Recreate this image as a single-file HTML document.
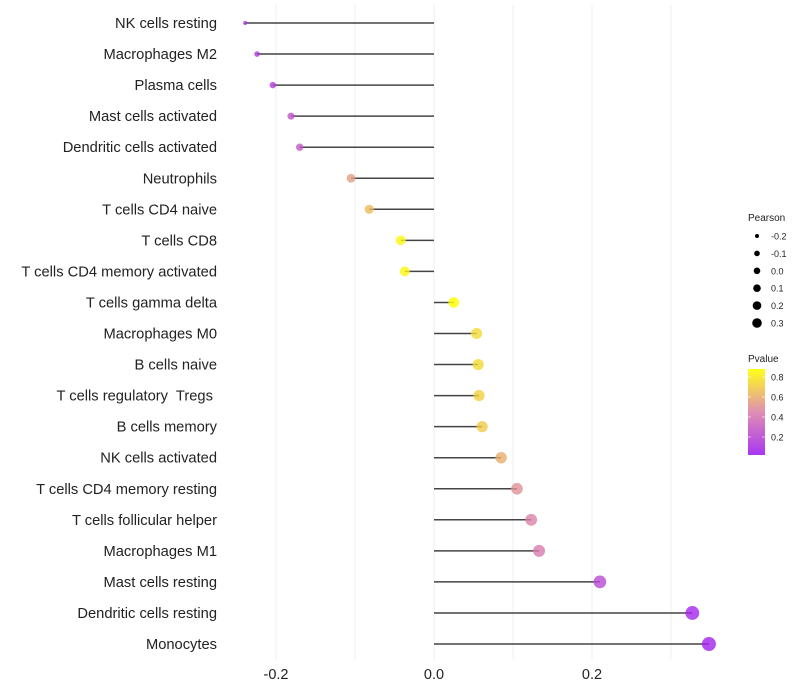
<!DOCTYPE html>
<html><head><meta charset="utf-8"><style>
body{margin:0;background:#fff;}
svg{display:block;font-family:"Liberation Sans",sans-serif;}
text{white-space:pre;}
</style></head><body>
<svg id="chart" width="800" height="700"></svg>
<script>
const categories=["NK cells resting","Macrophages M2","Plasma cells","Mast cells activated","Dendritic cells activated","Neutrophils","T cells CD4 naive","T cells CD8","T cells CD4 memory activated","T cells gamma delta","Macrophages M0","B cells naive","T cells regulatory  Tregs ","B cells memory","NK cells activated","T cells CD4 memory resting","T cells follicular helper","Macrophages M1","Mast cells resting","Dendritic cells resting","Monocytes"];
const pearson=[-0.239,-0.224,-0.204,-0.181,-0.170,-0.105,-0.082,-0.042,-0.037,0.025,0.054,0.056,0.057,0.061,0.085,0.105,0.123,0.133,0.210,0.327,0.348];
const pvalues=[0.08,0.12,0.15,0.25,0.27,0.55,0.65,0.85,0.85,0.88,0.75,0.75,0.72,0.7,0.6,0.5,0.45,0.42,0.2,0.05,0.03];
const xTicks=[-0.2,0.0,0.2];
const xTickLabels=["-0.2","0.0","0.2"];
const minorTicks=[-0.1,0.1,0.3];
const legendSizes=["-0.2","-0.1","0.0","0.1","0.2","0.3"];
const legendP=["0.8","0.6","0.4","0.2"];

const NS="http://www.w3.org/2000/svg";
const svg=document.getElementById('chart');
const x=v=>434+v*790;
const y=i=>23+i*31.05;
const rad=v=>2+5*Math.sqrt(Math.max(0,(v+0.239)/0.587));
function mk(tag,attrs,parent){const e=document.createElementNS(NS,tag);for(const k in attrs)e.setAttribute(k,attrs[k]);(parent||svg).appendChild(e);return e;}
function lerp(a,b,t){return a.map((c,i)=>Math.round(c+(b[i]-c)*t));}
function pcol(p){
  const t=Math.max(0,Math.min(1,(p-0.02)/0.86));
  const lo=[160,32,240],mid=[220,130,170],hi=[255,255,0];
  const c=t<0.5?lerp(lo,mid,t/0.5):lerp(mid,hi,(t-0.5)/0.5);
  return `rgb(${c[0]},${c[1]},${c[2]})`;
}
minorTicks.concat(xTicks).forEach(v=>{
  const g=mk('line',{x1:x(v),x2:x(v),y1:5,y2:660,stroke:'#efefef','stroke-width':1});
  
  
});
xTicks.forEach((v,i)=>{
  const t=mk('text',{x:x(v),y:679,'text-anchor':'middle','font-size':14.5,fill:'#222'});
  t.textContent=xTickLabels[i];
  
  
});
categories.forEach((c,i)=>{
  const t=mk('text',{x:217,y:y(i)+5,'text-anchor':'end','font-size':14.7,fill:'#222'});
  t.textContent=c;
  
  
  const l=mk('line',{x1:x(0),x2:x(pearson[i]),y1:y(i),y2:y(i),stroke:'#444','stroke-width':1.5});
  
  
  const d=mk('circle',{cx:x(pearson[i]),cy:y(i),r:rad(pearson[i]),fill:pcol(pvalues[i]),'fill-opacity':0.8});
  
  
});
const lt=mk('text',{x:748,y:221,'font-size':10,fill:'#222'});lt.textContent='Pearson';


const lr=[2,2.8,3.3,3.8,4.3,4.8];
legendSizes.forEach((s,i)=>{
  const cy=236+i*17.4;
  const c=mk('circle',{cx:757,cy:cy,r:lr[i],fill:'#000'});
  
  
  const t=mk('text',{x:771,y:cy+3.5,'font-size':9,fill:'#222'});t.textContent=s;
  
  
});
const pt=mk('text',{x:748,y:362,'font-size':10,fill:'#222'});pt.textContent='Pvalue';


const defs=mk('defs',{});
const grad=mk('linearGradient',{id:'pg',x1:0,y1:1,x2:0,y2:0},defs);
[0,0.25,0.5,0.75,1].forEach(o=>mk('stop',{offset:o,'stop-color':pcol(0.02+o*0.86)},grad));
const bar=mk('rect',{x:748,y:369,width:17,height:86,fill:'url(#pg)','fill-opacity':0.9});


legendP.forEach((s,i)=>{
  const v=parseFloat(s);
  const cy=455-(v-0.02)/0.86*86;
  mk('line',{x1:748,x2:751,y1:cy,y2:cy,stroke:'#fff','stroke-opacity':0.6});
  mk('line',{x1:762,x2:765,y1:cy,y2:cy,stroke:'#fff','stroke-opacity':0.6});
  const t=mk('text',{x:771,y:cy+3.5,'font-size':9,fill:'#222'});t.textContent=s;
  
  
});
</script>
</body></html>
